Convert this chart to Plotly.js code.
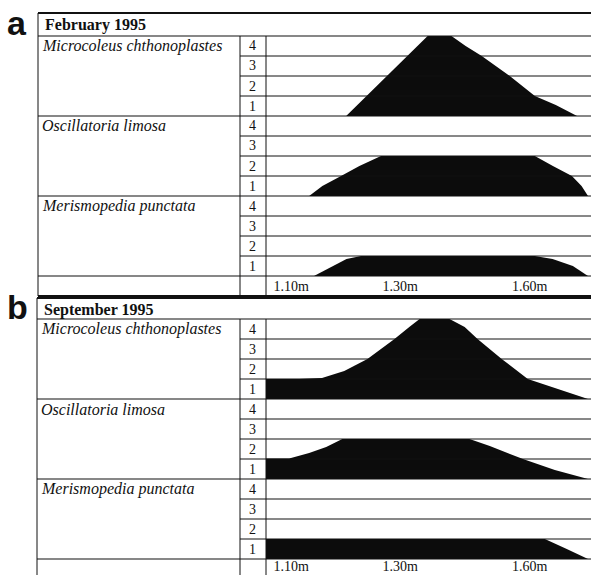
<!DOCTYPE html>
<html>
<head>
<meta charset="utf-8">
<script src="https://cdn.plot.ly/plotly-3.0.1.min.js"></script>
<style>html,body{margin:0;padding:0;background:#fff;}#chart{width:591px;height:575px;}</style>
</head>
<body>
<div id="chart"></div>
<script>
// ---------------- data ----------------
const panelLetters = ['a', 'b'];
const panelTitles = ['February 1995', 'September 1995'];
const speciesNames = ['Microcoleus chthonoplastes', 'Oscillatoria limosa', 'Merismopedia punctata'];
const levelLabels = ['4', '3', '2', '1'];
// relative position along the transect (0-100) and tick labels
const tickPositions = [7.8, 41.7, 81.9];
const tickLabels = ['1.10m', '1.30m', '1.60m'];

// February 1995 abundance profiles (level 0-4)
const febMicroX = [24.9, 31.2, 37.4, 43.6, 50.2, 57.6, 62.0, 67.0, 75.7, 83.5, 90.0, 96.6];
const febMicroY = [0, 1, 2, 3, 4, 4, 3.5, 3, 2, 1, 0.55, 0];
const febOscX = [13.4, 17.5, 23.3, 29.0, 35.7, 83.5, 89.1, 95.0, 98.0, 100];
const febOscY = [0, 0.5, 1, 1.5, 2, 2, 1.5, 1, 0.5, 0];
const febMerX = [14.9, 20.6, 25.0, 29.5, 83.5, 89.0, 95.3, 100];
const febMerY = [0, 0.5, 0.85, 1, 1, 0.85, 0.5, 0];

// September 1995 abundance profiles
const sepMicroX = [0, 10.3, 17.4, 24.3, 31.5, 39.9, 44.5, 47.7, 57.0, 61.7, 65.7, 73.2, 81.3, 90.7, 100];
const sepMicroY = [1, 1, 1.05, 1.4, 2, 3, 3.6, 4, 4, 3.6, 3, 2, 1, 0.5, 0];
const sepOscX = [0, 7.2, 13.4, 18.7, 23.7, 63.2, 69.5, 74.1, 79.8, 89.7, 100];
const sepOscY = [1.02, 1.02, 1.3, 1.6, 2, 2, 1.65, 1.35, 1, 0.45, 0];
const sepMerX = [0, 86.6, 93.4, 100];
const sepMerY = [1, 1, 0.5, 0];

const profiles = [
  [[febMicroX, febMicroY], [febOscX, febOscY], [febMerX, febMerY]],
  [[sepMicroX, sepMicroY], [sepOscX, sepOscY], [sepMerX, sepMerY]]
];

// ---------------- layout helpers ----------------
const W = 591, H = 575;
const px = x => x / W;
const py = y => 1 - y / H;
const SERIF = 'Liberation Serif, Times New Roman, serif';
const plotL = 266, plotR = 588, numL = 240, rightEnd = 591;
const panelGeom = [
  {top: 13, hdrBot: 36, left: 38, letterY: 23, bottomLine: true, standoff: 0},
  {top: 298, hdrBot: 319, left: 37, letterY: 307, bottomLine: false, standoff: -3}
];

const traces = [];
const layout = {
  width: W, height: H,
  margin: {l: 0, r: 0, t: 0, b: 0},
  paper_bgcolor: '#ffffff',
  plot_bgcolor: 'rgba(0,0,0,0)',
  showlegend: false,
  shapes: [], annotations: []
};
function hline(y, x0, x1, w) {
  layout.shapes.push({type: 'line', xref: 'paper', yref: 'paper', x0: px(x0), x1: px(x1), y0: py(y), y1: py(y),
    line: {color: '#111', width: w || 1}});
}
function vline(x, y0, y1, w) {
  layout.shapes.push({type: 'line', xref: 'paper', yref: 'paper', x0: px(x), x1: px(x), y0: py(y0), y1: py(Math.min(y1, H)),
    line: {color: '#111', width: w || 1}});
}

let ax = 0;
panelGeom.forEach((g, p) => {
  const bottom = g.hdrBot + 260;
  hline(g.top, g.left, rightEnd, 2);
  hline(g.hdrBot, g.left, rightEnd, 1.2);
  if (g.bottomLine) hline(bottom, g.left, rightEnd, 2);
  vline(g.left, g.top, bottom, 1);
  vline(numL, g.hdrBot, bottom, 1);
  vline(plotL, g.hdrBot, bottom, 1);

  layout.annotations.push({xref: 'paper', yref: 'paper', x: px(5), y: py(g.letterY), xanchor: 'left', yanchor: 'middle',
    text: '<b>' + panelLetters[p] + '</b>', showarrow: false,
    font: {family: 'Liberation Sans, Arial, sans-serif', size: 34, color: '#111'}});
  layout.annotations.push({xref: 'paper', yref: 'paper', x: px(g.left + 5), y: py(g.top + 12), xanchor: 'left', yanchor: 'middle',
    text: '<b>' + panelTitles[p] + '</b>', showarrow: false,
    font: {family: SERIF, size: 16, color: '#111'}});

  speciesNames.forEach((name, s) => {
    const T = g.hdrBot + 80 * s, B = T + 80;
    for (let k = 1; k < 4; k++) hline(T + 20 * k, numL, rightEnd, 1);
    hline(B, g.left, rightEnd, 1.2);
    layout.annotations.push({xref: 'paper', yref: 'paper', x: px(g.left + 2), y: py(T + 10), xanchor: 'left', yanchor: 'middle',
      text: '<i>' + name + '</i>', showarrow: false, font: {family: SERIF, size: 16, color: '#111'}});
    levelLabels.forEach((lab, k) => {
      layout.annotations.push({xref: 'paper', yref: 'paper', x: px(numL + 12), y: py(T + 10 + 20 * k), xanchor: 'center', yanchor: 'middle',
        text: lab, showarrow: false, font: {family: SERIF, size: 14, color: '#111'}});
    });

    ax += 1;
    const xn = ax === 1 ? 'xaxis' : 'xaxis' + ax;
    const yn = ax === 1 ? 'yaxis' : 'yaxis' + ax;
    const last = s === 2;
    layout[xn] = {
      domain: [px(plotL), px(plotR)], range: [0, 100], anchor: ax === 1 ? 'y' : 'y' + ax,
      showgrid: false, zeroline: false, showline: false, ticks: '', fixedrange: true,
      showticklabels: last, tickvals: tickPositions, ticktext: tickLabels,
      ticklabelstandoff: g.standoff,
      tickfont: {family: SERIF, size: 14, color: '#111'}
    };
    layout[yn] = {
      domain: [py(B), py(T)], range: [0, 4], anchor: ax === 1 ? 'x' : 'x' + ax,
      showgrid: false, zeroline: false, showline: false, showticklabels: false, ticks: '', fixedrange: true
    };
    const [xs, ys] = profiles[p][s];
    traces.push({
      type: 'scatter', mode: 'lines', x: xs, y: ys,
      xaxis: ax === 1 ? 'x' : 'x' + ax, yaxis: ax === 1 ? 'y' : 'y' + ax,
      fill: 'tozeroy', fillcolor: '#0c0c0c', line: {width: 0, color: '#0c0c0c'}, hoverinfo: 'skip'
    });
  });
});

Plotly.newPlot('chart', traces, layout, {staticPlot: true, displayModeBar: false});
</script>
</body>
</html>
